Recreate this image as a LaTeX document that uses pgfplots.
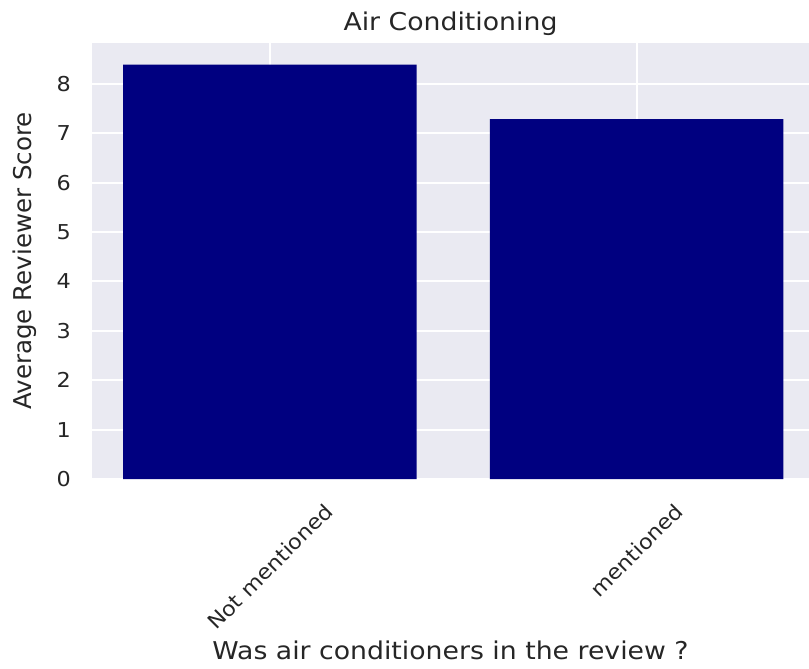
\documentclass[border=0pt]{standalone}
\usepackage{fontspec}
\setmainfont[FakeStretch=1.09]{DejaVu Sans}
\newfontfamily\plainfont{DejaVu Sans}
\usepackage{pgfplots}
\pgfplotsset{compat=1.18}
\definecolor{bgc}{HTML}{EAEAF2}
\definecolor{barc}{HTML}{000080}
\definecolor{txt}{HTML}{262626}
\begin{document}
\begin{tikzpicture}
\begin{axis}[
  scale only axis, width=358.5pt, height=218pt,
  at={(0,0)}, anchor=south west,
  xmin=-0.485, xmax=1.47, ymin=0, ymax=8.83,
  axis line style={draw=none},
  axis background/.style={fill=bgc},
  ybar, bar width=0.8,
  xtick={0,1},
  xticklabels={\rotatebox{45}{Not mentioned},\rotatebox{45}{mentioned}},
  ytick={0,1,2,3,4,5,6,7,8},
  major tick length=0pt,
  grid=major,
  major grid style={white, line width=1pt},
  /pgf/number format/assume math mode=true,
  ticklabel style={font=\fontsize{10.25}{12}\selectfont, text=txt},
  xticklabel style={anchor=north, yshift=-8pt},
  yticklabel style={anchor=east, xshift=-7pt},
  title={Air Conditioning},
  every axis title shift=0pt,
  title style={at={(axis description cs:0.5,1)}, anchor=base, yshift=6pt, font=\fontsize{12.25}{14}\selectfont, text=txt},
  xlabel={Was air conditioners in the review ?},
  every axis x label/.style={at={(axis description cs:0.5,-0.392)}, anchor=center, font=\fontsize{12.25}{14}\selectfont, text=txt},
  ylabel={Average Reviewer Score},
  every axis y label/.style={at={(axis description cs:-0.0934,0.5)}, rotate=90, anchor=center, font=\plainfont\fontsize{12.25}{14}\selectfont, text=txt},
]
\addplot[fill=barc, draw=none] coordinates {(0,8.39) (1,7.29)};
\end{axis}
\pgfresetboundingbox
\path (-46pt,-95pt) rectangle (358.5pt,239.5pt);
\end{tikzpicture}
\end{document}
